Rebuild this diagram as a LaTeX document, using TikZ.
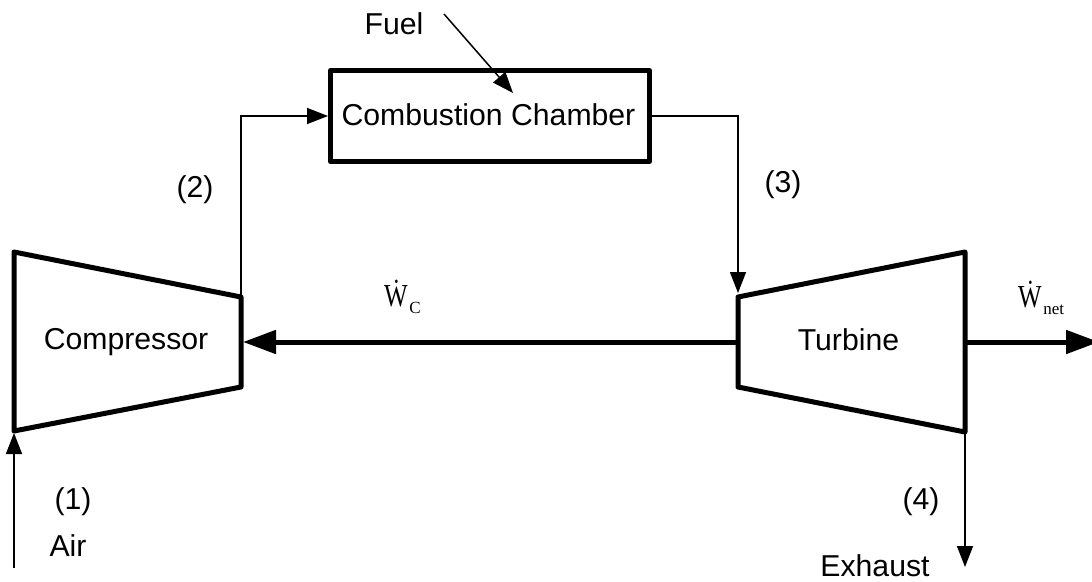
\documentclass[tikz,border=0pt]{standalone}
\usepackage{fontspec}
\setmainfont{Liberation Sans}
\newfontfamily\serifw{Liberation Serif}
\usetikzlibrary{arrows.meta}
\newcommand{\workdot}[1]{{\serifw\scalebox{0.78}[1]{\fontsize{32}{34}\selectfont\.W}\hspace{1.5pt}\raisebox{-7.5pt}{\fontsize{17}{17}\selectfont #1}}}
\begin{document}
\begin{tikzpicture}[x=1pt,y=-1pt,
 thick box/.style={draw,line width=5pt,line join=round},
 lbl/.style={inner sep=0pt,font=\fontsize{30.2}{32}\selectfont},
 thin flow/.style={draw,line width=1.5pt,-{Triangle[length=21pt,width=16pt]}},
 shaft/.style={draw,line width=5pt,-{Triangle[length=33pt,width=23pt]}}]
\useasboundingbox (0,0) rectangle (1092,581);
\node[thick box,minimum width=319pt,minimum height=91pt,inner sep=0pt,outer sep=0pt,anchor=north west] (cc) at (330.5,70.5) {};
\node[lbl] (cct) at (488.5,114.5) {Combustion Chamber};
\draw[thick box] (14,252) -- (241,297) -- (241,387) -- (14,431) -- cycle;
\draw[thick box] (738,297) -- (965,252) -- (965,432) -- (738,387) -- cycle;
\coordinate (cin) at (243,342);
\coordinate (tin) at (738,342);
\coordinate (tout) at (965,342);
\coordinate (cout) at (241,297);
\coordinate (cinlet) at (14,433);
\coordinate (airs) at (14,568);
\coordinate (tinlet) at (738,293);
\coordinate (ccl) at (328,116);
\coordinate (ccr) at (652,116);
\coordinate (tex) at (965,432);
\coordinate (exh) at (965,567);
\coordinate (wnet) at (1099,342);
\coordinate (fuels) at (444,14);
\coordinate (fuele) at (513,93);
\node[lbl] (comp) at (126,342) {Compressor};
\node[lbl] (turb) at (848.5,340) {Turbine};
\node[lbl] (fuel) at (394,24) {Fuel};
\node[lbl] (l2) at (195,190) {(2)};
\node[lbl] (l3) at (783,185) {(3)};
\node[lbl] (l1) at (73,502) {(1)};
\node[lbl] (l4) at (921,502) {(4)};
\node[lbl] (air) at (68,546) {Air};
\node[lbl] (ex) at (875,566) {Exhaust};
\node[inner sep=0pt,anchor=base west] (wc) at (384,306) {\workdot{C}};
\node[inner sep=0pt,anchor=base west] (wn) at (1018,307) {\workdot{net}};
\draw[thin flow] (cout) -- (241,116) -- (ccl);
\draw[thin flow] (ccr) -- (738,116) -- (tinlet);
\draw[thin flow] (airs) -- (cinlet);
\draw[thin flow] (tex) -- (exh);
\draw[thin flow] (fuels) -- (fuele);
\draw[shaft] (tin) -- (cin);
\draw[shaft] (tout) -- (wnet);
\end{tikzpicture}
\end{document}
